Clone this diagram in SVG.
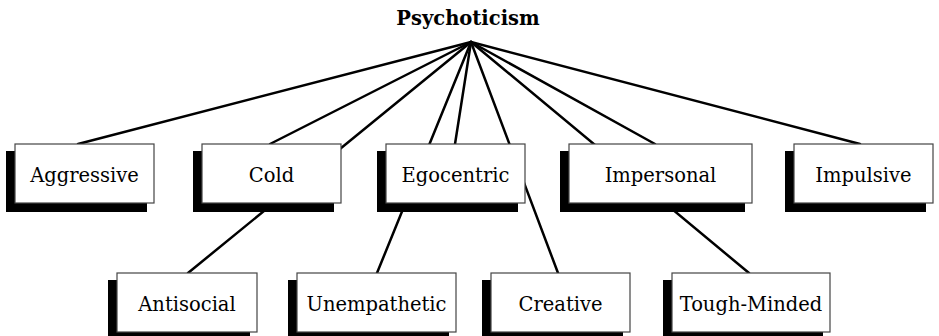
<svg xmlns="http://www.w3.org/2000/svg" width="939" height="336" viewBox="0 0 939 336">
  <style>
    .link { stroke: #000; stroke-width: 2.5; fill: none; stroke-linecap: round; }
    .shadow { fill: #000; }
    .box { fill: #fff; stroke: #444; stroke-width: 1.2; }
    .label { font-family: "DejaVu Serif", "Liberation Serif", serif; font-size: 19.5px; fill: #000; text-anchor: middle; }
    .root { font-family: "DejaVu Serif", "Liberation Serif", serif; font-size: 19.5px; font-weight: bold; fill: #000; text-anchor: middle; }
  </style>

  <rect width="939" height="336" fill="#fff"/>

  <!-- connectors: every trait hangs from the apex under the title -->
  <g id="connectors">
    <line class="link" x1="471" y1="42" x2="78" y2="144"/>
    <line class="link" x1="471" y1="42" x2="270" y2="144"/>
    <line class="link" x1="471" y1="42" x2="455" y2="144"/>
    <line class="link" x1="471" y1="42" x2="655" y2="144"/>
    <line class="link" x1="471" y1="42" x2="860" y2="144"/>
    <line class="link" x1="471" y1="42" x2="188" y2="273"/>
    <line class="link" x1="471" y1="42" x2="377" y2="273"/>
    <line class="link" x1="471" y1="42" x2="558" y2="273"/>
    <line class="link" x1="471" y1="42" x2="749" y2="273"/>
  </g>

  <g id="psychoticism">
    <text class="root" x="468" y="25">Psychoticism</text>
  </g>

  <!-- upper row -->
  <g id="aggressive">
    <rect class="shadow" x="6" y="151" width="141" height="61"/>
    <rect class="box" x="15" y="144" width="139" height="59"/>
    <text class="label" x="84.5" y="182">Aggressive</text>
  </g>
  <g id="cold">
    <rect class="shadow" x="193" y="151" width="141" height="61"/>
    <rect class="box" x="202" y="144" width="139" height="59"/>
    <text class="label" x="271.5" y="182">Cold</text>
  </g>
  <g id="egocentric">
    <rect class="shadow" x="377" y="151" width="141" height="61"/>
    <rect class="box" x="386" y="144" width="139" height="59"/>
    <text class="label" x="455.5" y="182">Egocentric</text>
  </g>
  <g id="impersonal">
    <rect class="shadow" x="560" y="151" width="185" height="61"/>
    <rect class="box" x="569" y="144" width="183" height="59"/>
    <text class="label" x="660.5" y="182">Impersonal</text>
  </g>
  <g id="impulsive">
    <rect class="shadow" x="785" y="151" width="141" height="61"/>
    <rect class="box" x="794" y="144" width="139" height="59"/>
    <text class="label" x="863.5" y="182">Impulsive</text>
  </g>

  <!-- lower row -->
  <g id="antisocial">
    <rect class="shadow" x="108" y="280" width="142" height="61"/>
    <rect class="box" x="117" y="273" width="140" height="59"/>
    <text class="label" x="187" y="311">Antisocial</text>
  </g>
  <g id="unempathetic">
    <rect class="shadow" x="288" y="280" width="161" height="61"/>
    <rect class="box" x="297" y="273" width="159" height="59"/>
    <text class="label" x="376.5" y="311">Unempathetic</text>
  </g>
  <g id="creative">
    <rect class="shadow" x="482" y="280" width="141" height="61"/>
    <rect class="box" x="491" y="273" width="139" height="59"/>
    <text class="label" x="560.5" y="311">Creative</text>
  </g>
  <g id="tough-minded">
    <rect class="shadow" x="663" y="280" width="160" height="61"/>
    <rect class="box" x="672" y="273" width="158" height="59"/>
    <text class="label" x="751" y="311">Tough-Minded</text>
  </g>
</svg>
